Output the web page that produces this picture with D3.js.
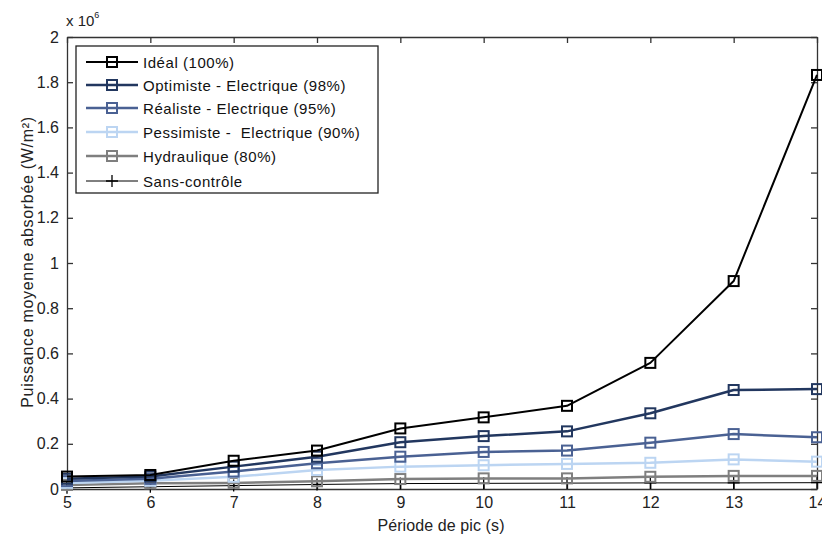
<!DOCTYPE html>
<html><head><meta charset="utf-8">
<script src="https://cdn.jsdelivr.net/npm/d3@7"></script>
<style>body{margin:0;background:#fff;} text{font-family:"Liberation Sans",Arial,sans-serif;white-space:pre;}</style>
</head><body><svg id="c" width="822" height="538"></svg>
<script>
const periods = [5,6,7,8,9,10,11,12,13,14];
const ideal      = [0.055,0.062,0.125,0.170,0.268,0.317,0.368,0.558,0.920,1.832];
const optimiste  = [0.045,0.055,0.099,0.143,0.207,0.234,0.255,0.335,0.438,0.442];
const realiste   = [0.035,0.045,0.077,0.114,0.143,0.164,0.170,0.205,0.243,0.229];
const pessimiste = [0.027,0.036,0.054,0.084,0.099,0.105,0.111,0.116,0.131,0.121];
const hydraulique= [0.018,0.025,0.027,0.034,0.044,0.047,0.047,0.054,0.058,0.058];
const sansControle=[0.005,0.010,0.015,0.020,0.024,0.025,0.026,0.027,0.027,0.028];
const seriesNames = ["Idéal (100%)","Optimiste - Electrique (98%)","Réaliste - Electrique (95%)","Pessimiste -  Electrique (90%)","Hydraulique (80%)","Sans-contrôle"];
const yTicks = [0,0.2,0.4,0.6,0.8,1,1.2,1.4,1.6,1.8,2];
const xTicks = periods;

const series = [
  {name:seriesNames[0], values:ideal, color:"#000000", w:2, marker:"square"},
  {name:seriesNames[1], values:optimiste, color:"#22375f", w:2.5, marker:"square"},
  {name:seriesNames[2], values:realiste, color:"#4a6193", w:2.5, marker:"square"},
  {name:seriesNames[3], values:pessimiste, color:"#bcd5f2", w:2.5, marker:"square"},
  {name:seriesNames[4], values:hydraulique, color:"#7f7f7f", w:2.5, marker:"square"},
  {name:seriesNames[5], values:sansControle, color:"#000000", w:1, marker:"plus"}
];

const svg = d3.select("#c");
const L=67, R=817, T=37, B=489;
const x = d3.scaleLinear().domain([5,14]).range([L,R]);
const y = d3.scaleLinear().domain([0,2]).range([B,T]);

const fmt = d => d3.format("~g")(d);
const gB = svg.append("g").attr("transform",`translate(0,${B})`)
  .call(d3.axisBottom(x).tickValues(xTicks).tickFormat(fmt).tickSizeInner(-6).tickSizeOuter(0).tickPadding(8));
const gT = svg.append("g").attr("transform",`translate(0,${T})`)
  .call(d3.axisTop(x).tickValues(xTicks).tickFormat("").tickSizeInner(-6).tickSizeOuter(0));
const gL = svg.append("g").attr("transform",`translate(${L},0)`)
  .call(d3.axisLeft(y).tickValues(yTicks).tickFormat(fmt).tickSizeInner(-6).tickSizeOuter(0).tickPadding(8));
const gR = svg.append("g").attr("transform",`translate(${R},0)`)
  .call(d3.axisRight(y).tickValues(yTicks).tickFormat("").tickSizeInner(-6).tickSizeOuter(0));
[gB,gT,gL,gR].forEach(g=>{
  g.selectAll("path,line").attr("stroke","#333").attr("stroke-width",1.3);
  g.selectAll("text").attr("fill","#222").style("font-size","16px").style("font-family","'Liberation Sans',Arial,sans-serif");
});

const line = d3.line().x((d,i)=>x(periods[i])).y(d=>y(d));
const order = [5,4,3,2,1,0];
order.forEach(k=>{
  const s = series[k];
  const g = svg.append("g");
  g.append("path").datum(s.values).attr("d",line).attr("fill","none")
    .attr("stroke",s.color).attr("stroke-width",s.w).attr("stroke-linejoin","round");
  s.values.forEach((v,i)=>{
    const cx=x(periods[i]), cy=y(v);
    if(s.marker==="square"){
      g.append("rect").attr("x",cx-5).attr("y",cy-5).attr("width",10).attr("height",10)
        .attr("fill","none").attr("stroke",s.color).attr("stroke-width",2);
    } else {
      g.append("path").attr("d",`M${cx-6},${cy}H${cx+6}M${cx},${cy-6}V${cy+6}`)
        .attr("stroke",s.color).attr("stroke-width",1.3);
    }
  });
});

// exponent
const ex = svg.append("text").attr("x",66).attr("y",26).attr("fill","#222").style("font-size","15px");
ex.append("tspan").text("x 10");
ex.append("tspan").attr("dy",-8).style("font-size","9px").text("6");

// axis labels
svg.append("text").attr("x",441).attr("y",531).attr("text-anchor","middle").attr("fill","#222")
  .style("font-size","16px").style("letter-spacing","0.1px").text("Période de pic (s)");
svg.append("text").attr("transform","translate(33,262) rotate(-90)").attr("text-anchor","middle").attr("fill","#222")
  .style("font-size","16px").style("letter-spacing","0.7px").text("Puissance moyenne absorbée (W/m²)");

// legend
const lg = svg.append("g");
lg.append("rect").attr("x",76).attr("y",46).attr("width",302).attr("height",147)
  .attr("fill","#fff").attr("stroke","#222").attr("stroke-width",1.3);
const ly = [62,85,108,132,156,181];
series.forEach((s,i)=>{
  const yy = ly[i];
  lg.append("line").attr("x1",86).attr("x2",138).attr("y1",yy).attr("y2",yy)
    .attr("stroke",s.color).attr("stroke-width",s.w);
  if(s.marker==="square"){
    lg.append("rect").attr("x",107).attr("y",yy-5).attr("width",10).attr("height",10)
      .attr("fill","none").attr("stroke",s.color).attr("stroke-width",2);
  } else {
    lg.append("path").attr("d",`M106,${yy}H118M112,${yy-6}V${yy+6}`).attr("stroke",s.color).attr("stroke-width",1.3);
  }
  lg.append("text").attr("x",143).attr("y",yy+5.5).attr("fill","#111").style("font-size","15px")
    .style("letter-spacing","0.55px").text(s.name);
});
</script></body></html>
